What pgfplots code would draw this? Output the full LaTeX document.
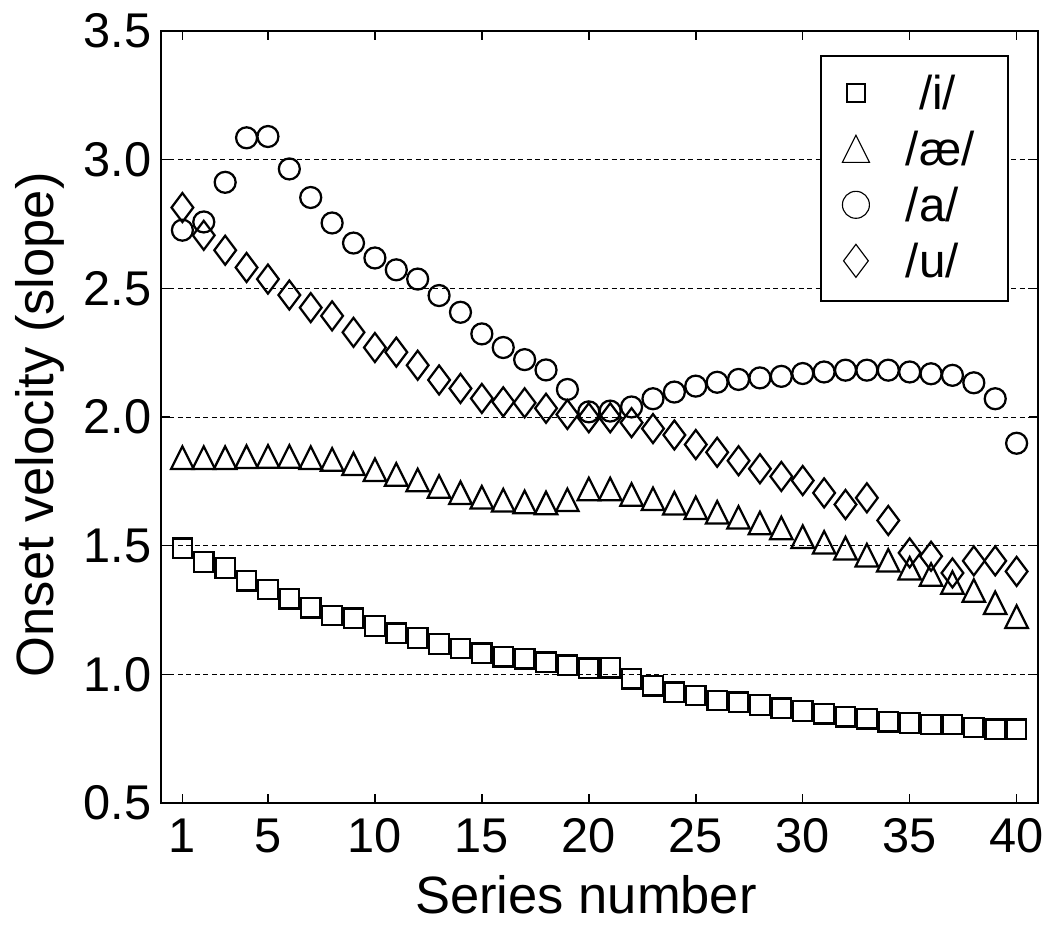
\documentclass[border=0pt]{standalone}
\usepackage{pgfplots}
\pgfplotsset{compat=1.18}
\usepackage{fontspec}
\setmainfont{Liberation Sans}
\pgfdeclareplotmark{mtri}{%
  \pgfpathmoveto{\pgfqpoint{0pt}{\pgfplotmarksize}}%
  \pgfpathlineto{\pgfqpoint{\pgfplotmarksize}{-\pgfplotmarksize}}%
  \pgfpathlineto{\pgfqpoint{-\pgfplotmarksize}{-\pgfplotmarksize}}%
  \pgfpathclose
  \pgfusepathqstroke}
\pgfplotstableread{
x i ae a u
1 1.490 1.842 2.726 2.814
2 1.437 1.842 2.758 2.706
3 1.413 1.842 2.912 2.648
4 1.364 1.846 3.085 2.581
5 1.330 1.847 3.090 2.536
6 1.294 1.847 2.964 2.474
7 1.259 1.842 2.853 2.425
8 1.229 1.835 2.754 2.393
9 1.218 1.818 2.676 2.329
10 1.188 1.795 2.618 2.270
11 1.160 1.777 2.572 2.252
12 1.141 1.755 2.536 2.201
13 1.118 1.730 2.472 2.144
14 1.100 1.706 2.407 2.111
15 1.082 1.688 2.323 2.072
16 1.068 1.677 2.270 2.059
17 1.061 1.670 2.223 2.055
18 1.047 1.666 2.183 2.034
19 1.035 1.678 2.107 2.010
20 1.024 1.720 2.020 1.997
21 1.026 1.720 2.023 1.997
22 0.983 1.699 2.039 1.978
23 0.956 1.682 2.071 1.955
24 0.930 1.665 2.097 1.930
25 0.918 1.647 2.120 1.893
26 0.898 1.630 2.135 1.863
27 0.892 1.610 2.146 1.830
28 0.881 1.588 2.152 1.799
29 0.868 1.569 2.158 1.769
30 0.858 1.535 2.169 1.753
31 0.847 1.513 2.175 1.705
32 0.835 1.490 2.182 1.660
33 0.827 1.463 2.182 1.686
34 0.816 1.443 2.182 1.598
35 0.811 1.412 2.175 1.472
36 0.805 1.388 2.168 1.459
37 0.805 1.357 2.162 1.394
38 0.793 1.326 2.133 1.441
39 0.787 1.278 2.071 1.441
40 0.787 1.224 1.898 1.400
}\datatable
\begin{document}
\begin{tikzpicture}[font=\fontsize{19}{22}\selectfont]
\begin{axis}[
  scale only axis, width=350.8pt, height=308.8pt,
  xmin=0, xmax=41, ymin=0.5, ymax=3.5,
  xtick={1,5,10,15,20,25,30,35,40},
  ytick={0.5,1,1.5,2,2.5,3,3.5},
  /pgf/number format/assume math mode=true,
  yticklabel style={/pgf/number format/fixed, /pgf/number format/fixed zerofill, /pgf/number format/precision=1,
    anchor=east, inner sep=0pt, xshift=-3.6pt},
  xticklabel style={anchor=north, inner sep=0pt, yshift=-6pt},
  tick label style={font=\fontsize{19.5}{22}\selectfont},
  tick align=inside, major tick length=3.6pt,
  tick style={black, line width=0.6pt},
  axis line style={black, line width=0.7pt},
  ymajorgrids,
  grid style={black, line width=0.4pt, dash pattern=on 2pt off 1.4pt},
  xlabel={Series number},
  ylabel={Onset velocity (slope)},
  xlabel style={at={(axis description cs:0.4846,-0.1425)}, anchor=base, font=\fontsize{21}{24}\selectfont},
  ylabel style={at={(axis description cs:-0.1231,0.49)}, anchor=base, font=\fontsize{21}{24}\selectfont},
  legend style={at={(0.967,0.969)}, anchor=north east, draw=black, line width=0.9pt,
    inner xsep=0pt, inner ysep=4.15pt, font=\fontsize{19}{22}\selectfont,
    nodes={text height=15.25pt, text depth=3.15pt, inner ysep=2pt, inner xsep=2pt},
    /tikz/every odd column/.append style={column sep=4pt}},
  legend cell align=left,
  legend image code/.code={\path[draw=none,fill=none] (0pt,0.65pt) -- (28pt,0.65pt);
    \draw[#1] plot coordinates {(14pt,0.65pt)};},
]
\addplot[only marks, black, mark=square, mark size=3.9pt, line width=0.9pt,
  legend image post style={mark size=3.7pt, line width=0.8pt}] table[x=x, y=i] {\datatable};
\addlegendentry{\makebox[38.8pt][l]{\ /i/}}
\addplot[only marks, black, mark=mtri, mark size=4.5pt, line width=0.9pt,
  legend image post style={mark size=5.4pt, line width=0.45pt}] table[x=x, y=ae] {\datatable};
\addlegendentry{\makebox[38.8pt][l]{/æ/}}
\addplot[only marks, black, mark=o, mark size=4.2pt, line width=0.9pt,
  legend image post style={mark size=5.4pt, line width=0.45pt}] table[x=x, y=a] {\datatable};
\addlegendentry{\makebox[38.8pt][l]{/a/}}
\addplot[only marks, black, mark=diamond, mark size=5.8pt, line width=0.9pt,
  legend image post style={mark size=6.6pt, line width=0.45pt}] table[x=x, y=u] {\datatable};
\addlegendentry{\makebox[38.8pt][l]{/u/}}
\end{axis}
\pgfresetboundingbox
\path ([xshift=-64.4pt,yshift=-51.6pt]current axis.south west) rectangle ([xshift=4.8pt,yshift=12.4pt]current axis.north east);
\end{tikzpicture}
\end{document}
